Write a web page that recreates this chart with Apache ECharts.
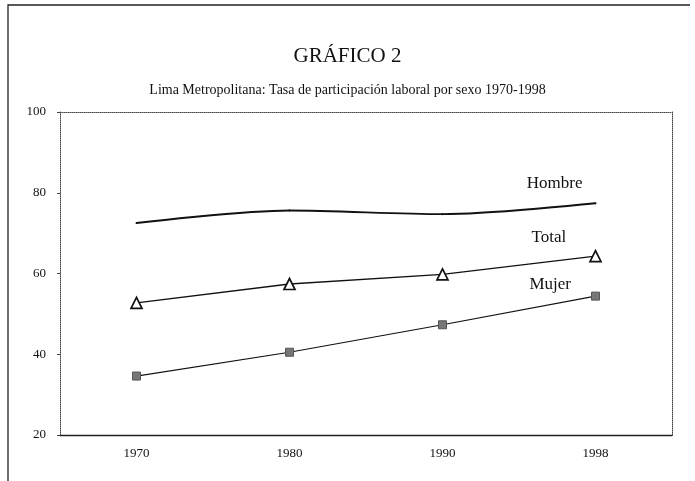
<!DOCTYPE html>
<html>
<head>
<meta charset="utf-8">
<script src="https://cdn.jsdelivr.net/npm/echarts@6/dist/echarts.min.js"></script>
<style>
  html, body { margin: 0; padding: 0; background: #fff; }
  #chart { width: 695px; height: 481px; }
</style>
</head>
<body>
<div id="chart"></div>
<script>
// datos
var years = ['1970', '1980', '1990', '1998'];
var hombre = [72.5, 75.6, 74.7, 77.4];
var total = [52.7, 57.4, 59.8, 64.3];
var mujer = [34.6, 40.5, 47.3, 54.4];
var yTicks = [20, 40, 60, 80, 100];

var serif = '"Liberation Serif", "DejaVu Serif", serif';

var myChart = echarts.init(document.getElementById('chart'));

// etiqueta solo en el ultimo punto de cada serie
function lastLabel(arr, text, pos) {
    return arr.map(function (v, i) {
        if (i !== arr.length - 1) return v;
        return {
            value: v,
            label: {
                show: true,
                formatter: text,
                position: pos,
                align: 'right',
                verticalAlign: 'middle',
                fontFamily: serif,
                fontSize: 17,
                color: '#111'
            }
        };
    });
}

option = {
    animation: false,
    backgroundColor: '#fff',
    title: [
        {
            text: 'GRÁFICO 2',
            left: 'center',
            top: 41,
            textStyle: {fontFamily: serif, fontSize: 21, fontWeight: 'normal', color: '#111'}
        },
        {
            text: 'Lima Metropolitana: Tasa de participación laboral por sexo 1970-1998',
            left: 'center',
            top: 78,
            textStyle: {fontFamily: serif, fontSize: 14, fontWeight: 'normal', color: '#111'}
        }
    ],
    grid: {left: 60, right: 23, top: 112, bottom: 46},
    xAxis: [
        {
            type: 'category',
            data: years,
            boundaryGap: true,
            axisLine: {lineStyle: {color: '#222', width: 1.4}},
            axisTick: {show: false},
            axisLabel: {fontFamily: serif, fontSize: 13, color: '#111', margin: 12}
        },
        {
            type: 'category',
            position: 'top',
            data: years,
            axisLine: {show: true, lineStyle: {color: '#444', type: 'dotted', width: 1}},
            axisTick: {show: false},
            axisLabel: {show: false}
        }
    ],
    yAxis: [
        {
            type: 'value',
            min: yTicks[0],
            max: yTicks[yTicks.length - 1],
            interval: 20,
            axisLine: {show: true, lineStyle: {color: '#444', type: 'dotted', width: 1}},
            axisTick: {show: true, length: 3, lineStyle: {color: '#444'}},
            splitLine: {show: false},
            axisLabel: {fontFamily: serif, fontSize: 13, color: '#111', margin: 14}
        },
        {
            type: 'value',
            position: 'right',
            min: yTicks[0],
            max: yTicks[yTicks.length - 1],
            interval: 20,
            axisLine: {show: true, lineStyle: {color: '#444', type: 'dotted', width: 1}},
            axisTick: {show: false},
            splitLine: {show: false},
            axisLabel: {show: false}
        }
    ],
    graphic: [
        {
            type: 'polyline',
            shape: {points: [[8, 481], [8, 5], [690, 5]]},
            style: {stroke: '#222', lineWidth: 1.3, fill: null}
        }
    ],
    series: [
        {
            name: 'Hombre',
            type: 'line',
            smooth: 0.3,
            symbol: 'circle',
            symbolSize: 2,
            showAllSymbol: true,
            data: lastLabel(hombre, 'Hombre', [-12, -19]),
            itemStyle: {color: '#111'},
            lineStyle: {color: '#111', width: 1.9}
        },
        {
            name: 'Total',
            type: 'line',
            symbol: 'triangle',
            symbolSize: 11,
            data: lastLabel(total, 'Total', [-23, -12]),
            itemStyle: {color: '#fff', borderColor: '#111', borderWidth: 1.7},
            lineStyle: {color: '#111', width: 1.3}
        },
        {
            name: 'Mujer',
            type: 'line',
            symbol: 'rect',
            symbolSize: 8,
            data: lastLabel(mujer, 'Mujer', [-20, -7]),
            itemStyle: {color: '#777', borderColor: '#555', borderWidth: 1},
            lineStyle: {color: '#111', width: 1.2}
        }
    ]
};

myChart.setOption(option);
</script>
</body>
</html>
